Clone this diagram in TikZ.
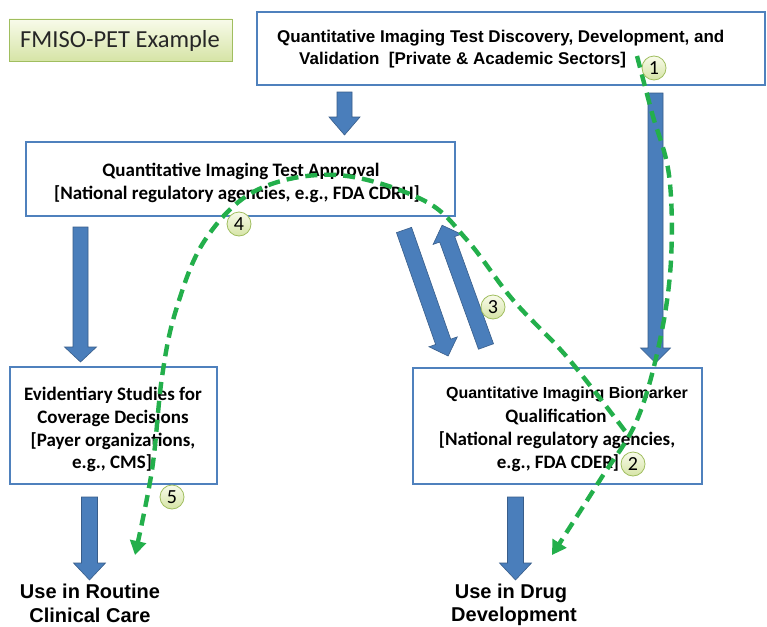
\documentclass[tikz,border=0pt]{standalone}
\usepackage{fontspec}
\setmainfont{Carlito}
\newfontfamily\arialf{Liberation Sans}
\usetikzlibrary{arrows.meta}
\definecolor{boxblue}{RGB}{79,129,189}
\definecolor{arrblue}{RGB}{74,126,187}
\definecolor{arredge}{RGB}{56,93,138}
\definecolor{dgreen}{RGB}{35,175,75}
\definecolor{olivec}{RGB}{160,190,95}
\definecolor{ltop}{RGB}{248,251,234}
\definecolor{lbot}{RGB}{214,228,166}
\newcommand\blockarr[7]{\draw[barrow, shift={(#1,#2)}, rotate=#3] (0,-#5) -- ({#4-#7},-#5) -- ({#4-#7},-#6) -- (#4,0) -- ({#4-#7},#6) -- ({#4-#7},#5) -- (0,#5) -- cycle;}
\begin{document}
\begin{tikzpicture}[x=1pt,y=-1pt,
 box/.style={draw=boxblue, line width=1.6pt, fill=white, inner sep=0pt},
 barrow/.style={fill=arrblue, draw=arredge, line width=0.6pt},
 flow/.style={draw=dgreen, line width=4.4pt, dash pattern=on 12pt off 7pt, -{Triangle[length=14pt,width=16pt]}},
 numc/.style={circle, draw=olivec, line width=0.8pt, top color=ltop, bottom color=lbot, minimum size=24pt, inner sep=0pt, font=\fontsize{20}{20}\selectfont},
 ar/.style={inner sep=0pt, font=\arialf\bfseries\fontsize{17}{20}\selectfont},
 ca/.style={inner sep=0pt, anchor=base, font=\bfseries\fontsize{19}{22}\selectfont},
 big/.style={inner sep=0pt, anchor=base, font=\arialf\bfseries\fontsize{20}{24}\selectfont}
]
\useasboundingbox[fill=white] (0,0) rectangle (767,626);

% FMISO label box
\node[draw=olivec, line width=0.8pt, top color=ltop, bottom color=lbot, minimum width=223pt, minimum height=42pt, inner sep=0pt] (fm) at (120.5,40) {};
\node[inner sep=0pt, anchor=base, font=\fontsize{24.5}{28}\selectfont, text=black!85] (fmt) at (120,48) {FMISO-PET Example};

% boxes
\node[box, minimum width=508pt, minimum height=73pt] (disc) at (511,48.5) {};
\node[box, minimum width=429pt, minimum height=74pt] (appr) at (240.5,179) {};
\node[box, minimum width=207pt, minimum height=117pt] (evid) at (113.5,425.5) {};
\node[box, minimum width=289pt, minimum height=116pt] (qual) at (557.5,426) {};

% block arrows
\blockarr{344.5}{92}{-90}{43}{7.5}{15.5}{18}
\blockarr{80.5}{227}{-90}{135}{7.5}{16}{15}
\blockarr{655.5}{93}{-90}{270}{7.5}{15}{15}
\blockarr{404}{230}{-70.7}{133.5}{8}{15}{15}
\blockarr{486}{346.5}{109.9}{129}{8}{15}{15}
\blockarr{89.5}{497}{-90}{83}{8}{16}{17}
\blockarr{515.5}{497}{-90}{83}{8}{16}{17}

% texts
\node[ar, anchor=base west] (d1) at (277,42) {Quantitative Imaging Test Discovery, Development, and};
\node[ar, anchor=base west] (d2) at (299,64) {Validation\ \ [Private \& Academic Sectors]};
\node[ca] (a1) at (241,176) {Quantitative Imaging Test Approval};
\node[ca] (a2) at (237,199) {[National regulatory agencies, e.g., FDA CDRH]};
\node[ca] (e1) at (113,400) {Evidentiary Studies for};
\node[ca] (e2) at (113,423) {Coverage Decisions};
\node[ca] (e3) at (113,446) {[Payer organizations,};
\node[ca] (e4) at (112,468) {e.g., CMS]};
\node[ar, anchor=base, font=\arialf\bfseries\fontsize{16}{18}\selectfont] (q1) at (567,398) {Quantitative Imaging Biomarker};
\node[ca] (q2) at (556,422) {Qualification};
\node[ca] (q3) at (557,445) {[National regulatory agencies,};
\node[ca] (q4) at (558,468) {e.g., FDA CDER]};
\node[big] (r1) at (90,598) {Use in Routine};
\node[big] (r2) at (90,622) {Clinical Care};
\node[big] (u1) at (511,598) {Use in Drug};
\node[big] (u2) at (514,621) {Development};

% green flow paths
\coordinate (p0) at (637,56);
\coordinate (p1) at (652,113);
\coordinate (p2) at (669,175);
\coordinate (p3) at (671,260);
\coordinate (p4) at (660,340);
\coordinate (p5) at (637,420);
\coordinate (p6) at (600,480);
\coordinate (p7) at (552,555);
\draw[flow] plot[smooth, tension=0.6] coordinates {(p0) (p1) (p2) (p3) (p4) (p5) (p6) (p7)};

\coordinate (c0) at (625,431);
\coordinate (c1) at (567,357);
\coordinate (c2) at (513,300);
\coordinate (c3) at (467,240);
\coordinate (c4) at (423,200);
\coordinate (c5) at (337,175);
\coordinate (c6) at (257,190);
\coordinate (c7) at (205,240);
\coordinate (c8) at (176,310);
\coordinate (c9) at (162,377);
\coordinate (c10) at (152,470);
\coordinate (c11) at (135,555);
\draw[flow] plot[smooth, tension=0.6] coordinates {(c0) (c1) (c2) (c3) (c4) (c5) (c6) (c7) (c8) (c9) (c10) (c11)};

% numbered circles
\node[numc] (n1) at (654,68) {1};
\node[numc] (n2) at (633,464) {2};
\node[numc] (n3) at (493,307) {3};
\node[numc] (n4) at (239,224) {4};
\node[numc] (n5) at (172,497) {5};
\end{tikzpicture}
\end{document}
